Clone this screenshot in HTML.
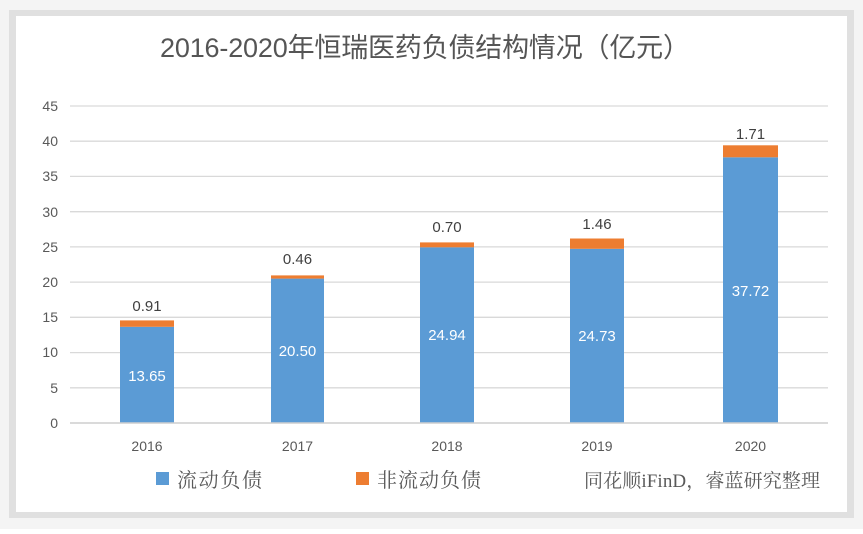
<!DOCTYPE html><html><head><meta charset="utf-8"><style>
body{margin:0;width:863px;height:529px;background:#fff;overflow:hidden}
</style></head><body>
<svg width="863" height="529" xmlns="http://www.w3.org/2000/svg" font-family="Liberation Sans, Noto Sans CJK SC, sans-serif">
<rect x="0" y="0" width="863" height="529" fill="#f4f4f4"/>
<rect x="9" y="10" width="845" height="508" fill="#e0e0e0"/>
<rect x="16" y="16" width="831" height="496" fill="#fff"/>
<text x="425" y="57" font-size="27" fill="#555" text-anchor="middle" textLength="530">2016-2020年恒瑞医药负债结构情况（亿元）</text>
<g stroke="#d9d9d9" stroke-width="1.3">
<line x1="70" x2="828" y1="106" y2="106"/><line x1="70" x2="828" y1="141.2" y2="141.2"/><line x1="70" x2="828" y1="176.4" y2="176.4"/><line x1="70" x2="828" y1="211.7" y2="211.7"/><line x1="70" x2="828" y1="246.9" y2="246.9"/><line x1="70" x2="828" y1="282.1" y2="282.1"/><line x1="70" x2="828" y1="317.3" y2="317.3"/><line x1="70" x2="828" y1="352.6" y2="352.6"/><line x1="70" x2="828" y1="387.8" y2="387.8"/><line x1="70" x2="828" y1="423" y2="423"/>
</g>
<g font-size="14" fill="#595959" text-anchor="end">
<text x="58" y="111">45</text><text x="58" y="146">40</text><text x="58" y="181">35</text><text x="58" y="217">30</text><text x="58" y="252">25</text><text x="58" y="287">20</text><text x="58" y="322">15</text><text x="58" y="357">10</text><text x="58" y="393">5</text><text x="58" y="428">0</text>
</g>
<g fill="#5b9bd5">
<rect x="120" y="326.8" width="54" height="96.2"/><rect x="271" y="278.6" width="53" height="144.4"/><rect x="420" y="247.3" width="54" height="175.7"/><rect x="570" y="248.8" width="54" height="174.2"/><rect x="723" y="157.3" width="55" height="265.7"/>
</g>
<g fill="#ed7d31">
<rect x="120" y="320.4" width="54" height="6.4"/><rect x="271" y="275.4" width="53" height="3.2"/><rect x="420" y="242.4" width="54" height="4.9"/><rect x="570" y="238.5" width="54" height="10.3"/><rect x="723" y="145.3" width="55" height="12"/>
</g>
<line x1="70" x2="828" y1="423" y2="423" stroke="#d0d0d0" stroke-width="1.5"/>
<g font-size="15" fill="#fff" text-anchor="middle">
<text x="147" y="381">13.65</text><text x="297.5" y="356">20.50</text><text x="447" y="340">24.94</text><text x="597" y="341">24.73</text><text x="750.5" y="296">37.72</text>
</g>
<g font-size="15" fill="#404040" text-anchor="middle">
<text x="147" y="311">0.91</text><text x="297.5" y="264">0.46</text><text x="447" y="232">0.70</text><text x="597" y="229">1.46</text><text x="750.5" y="139">1.71</text>
</g>
<g font-size="14" fill="#595959" text-anchor="middle">
<text x="147" y="451">2016</text><text x="297.5" y="451">2017</text><text x="447" y="451">2018</text><text x="597" y="451">2019</text><text x="750.5" y="451">2020</text>
</g>
<rect x="156" y="472" width="13" height="13" fill="#5b9bd5"/>
<rect x="356" y="472" width="13" height="13" fill="#ed7d31"/>
<g font-size="20" fill="#595959" font-family="Liberation Serif, Noto Serif CJK SC, serif">
<text x="177" y="487" textLength="85">流动负债</text><text x="377" y="487" textLength="104">非流动负债</text>
<text x="584" y="487" font-size="19" textLength="236">同花顺iFinD，睿蓝研究整理</text>
</g>
</svg>
</body></html>
